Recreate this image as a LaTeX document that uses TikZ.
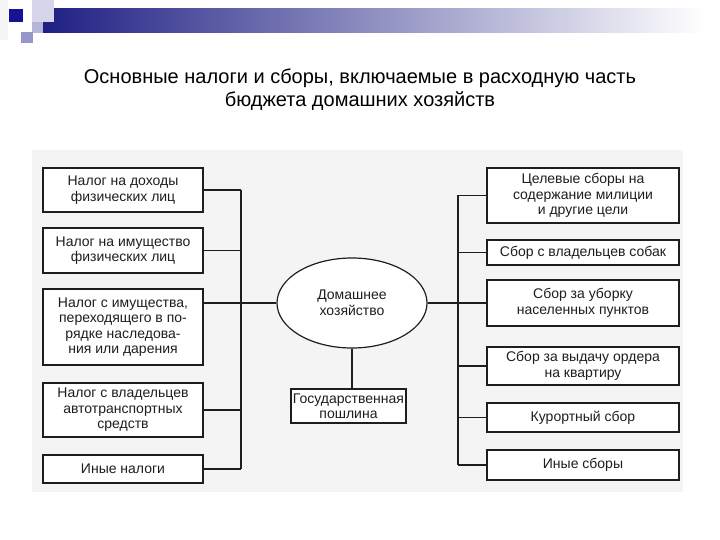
\documentclass[tikz,border=0pt]{standalone}
\usepackage{fontspec}
\setmainfont{Liberation Sans}
\usetikzlibrary{shapes.geometric}
\definecolor{barnavy}{RGB}{28,28,130}
\definecolor{sqdark}{RGB}{20,20,150}
\definecolor{sqlight}{RGB}{214,214,234}
\definecolor{sqmid}{RGB}{150,150,200}
\definecolor{scanbg}{RGB}{244,244,244}
\definecolor{ink}{RGB}{30,30,30}

\begin{document}
\begin{tikzpicture}[x=1pt, y=-1pt, line width=1.2pt, draw=ink,
    box/.style={draw=ink, fill=white, align=center, text=ink, inner sep=1pt,
      font=\fontsize{14}{15.5}\selectfont},
    lbox/.style={box, minimum width=160pt},
    rbox/.style={box, minimum width=192pt},
    hh/.style={ellipse, draw=ink, fill=white, align=center, text=ink,
      minimum width=150pt, minimum height=90pt, inner sep=0pt,
      font=\fontsize{14}{15.5}\selectfont}]
  \useasboundingbox (0,0) rectangle (720,540);

  % header
  \fill[black!4] (0,0) rectangle (8,40);
  \shade[left color=barnavy, right color=white, draw=none] (32,9) rectangle (705,33);
  \fill[sqlight] (32,0) rectangle (54,22);
  \fill[sqmid!70!white] (32,22) rectangle (43,33);
  \fill[sqdark] (9,9) rectangle (23,22);
  \fill[sqmid] (21,32) rectangle (33,43);

  \node[font=\fontsize{20}{23}\selectfont, align=center] (title) at (360,90)
    {Основные налоги и сборы, включаемые в расходную часть\\
     бюджета домашних хозяйств};

  \fill[scanbg] (32,150) rectangle (683,492);

  % left side
  \node[lbox, minimum height=44pt] (tax1) at (123,190) {Налог на доходы\\физических лиц};
  \node[lbox, minimum height=45pt] (tax2) at (123,250.5) {Налог на имущество\\физических лиц};
  \node[lbox, minimum height=76pt] (tax3) at (123,327) {Налог с имущества,\\переходящего в по-\\рядке наследова-\\ния или дарения};
  \node[lbox, minimum height=54pt] (tax4) at (123,410) {Налог с владельцев\\автотранспортных\\средств};
  \node[lbox, minimum height=28pt] (tax5) at (123,469) {Иные налоги};

  % centre
  \node[hh] (home) at (352,303) {Домашнее\\хозяйство};
  \node[box, minimum width=115pt, minimum height=34pt] (duty) at (348.5,406) {Государственная\\пошлина};

  % right side
  \node[rbox, minimum height=55pt] (fee1) at (583,195.5) {Целевые сборы на\\содержание милиции\\и другие цели};
  \node[rbox, minimum height=25pt] (fee2) at (583,252.5) {Сбор с владельцев собак};
  \node[rbox, minimum height=46pt] (fee3) at (583,303) {Сбор за уборку\\населенных пунктов};
  \node[rbox, minimum height=38pt] (fee4) at (583,366) {Сбор за выдачу ордера\\на квартиру};
  \node[rbox, minimum height=29pt] (fee5) at (583,417.5) {Курортный сбор};
  \node[rbox, minimum height=30pt] (fee6) at (583,465) {Иные сборы};

  \coordinate (busL) at (241,0);
  \coordinate (busR) at (458,0);

  % connectors
  \draw (tax1.east -| busL) -- (tax5.east -| busL);
  \foreach \n in {1,2,4,5}
    \draw (tax\n.east) -- (tax\n.east -| busL);
  \draw (tax3.east |- home.west) -- (home.west);
  \draw (fee1.west -| busR) -- (fee6.west -| busR);
  \foreach \n in {1,2,4,5,6}
    \draw (fee\n.west) -- (fee\n.west -| busR);
  \draw (home.east) -- (fee3.west);
  \draw (home.south) -- (home.south |- duty.north);
\end{tikzpicture}
\end{document}
